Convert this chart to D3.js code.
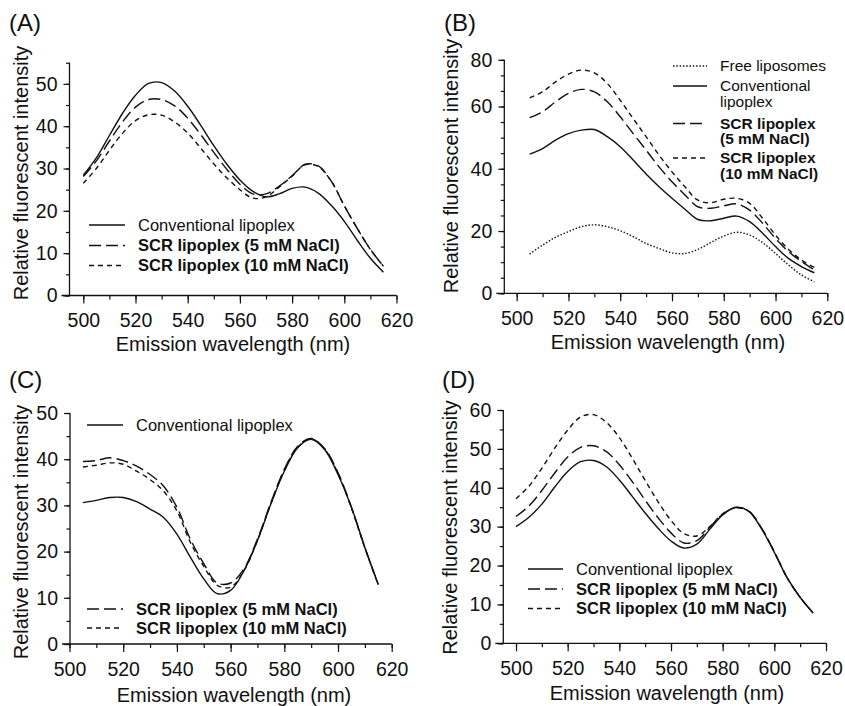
<!DOCTYPE html>
<html>
<head>
<meta charset="utf-8">
<script src="https://cdn.jsdelivr.net/npm/d3@7"></script>
<style>
body { margin: 0; background: #fff; }
svg { font-family: "Liberation Sans", Arial, sans-serif; }
</style>
</head>
<body>
<svg id="chart" width="845" height="706"></svg>
<script>
// ---- data ----
const wlA = [500,505,510,515,520,525,530,535,540,545,550,555,560,565,570,575,580,585,590,595,600,605,610,615]
const convA  = [28.4,32.5,37.8,43.0,47.3,50.1,50.3,48.3,44.7,40.2,35.4,31.0,27.3,24.6,23.3,24.0,25.3,25.6,24.2,21.3,17.5,13.0,8.8,5.5]
const scr5A  = [28.1,31.8,36.5,41.0,44.5,46.3,46.3,44.8,41.9,38.0,33.8,29.8,26.3,24.0,24.0,25.8,28.3,31.0,30.6,27.0,21.2,15.8,10.9,6.9]
const scr10A = [26.5,30.0,34.3,38.3,41.3,42.7,42.6,41.0,38.4,34.8,31.1,27.8,25.0,23.0,23.3,25.6,28.2,30.9,30.5,27.0,21.2,15.8,10.9,6.9]

const wlB = [505,510,515,520,525,530,535,540,545,550,555,560,565,570,575,580,585,590,595,600,605,610,615]
const freeB  = [12.6,15.5,18.0,19.8,21.4,22.0,21.4,20.1,18.2,16.0,14.4,13.0,12.8,14.1,16.3,18.4,19.6,18.7,16.3,12.8,9.1,5.9,3.7]
const convB  = [44.7,46.5,49.2,51.3,52.4,52.6,50.3,47.1,42.8,38.3,34.2,30.5,27.0,23.7,23.3,24.1,24.8,23.0,19.3,15.0,11.2,8.6,6.6]
const scr5B  = [56.4,58.3,61.5,64.2,65.5,64.7,61.5,56.7,51.3,46.0,40.6,35.8,31.6,27.8,27.3,28.1,28.7,26.7,22.5,17.6,13.4,10.2,7.5]
const scr10B = [62.8,64.7,67.9,70.4,71.7,70.8,67.4,62.0,56.1,50.3,44.4,39.0,34.2,29.9,29.1,30.2,30.5,28.9,24.1,18.7,14.1,10.7,8.3]

const wlC = [505,510,515,520,525,530,535,540,545,550,555,560,565,570,575,580,585,590,595,600,605,610,615]
const convC  = [30.6,31.1,31.7,31.7,30.8,29.2,27.4,23.8,18.8,14.1,10.9,11.6,15.9,22.4,30.3,37.4,42.5,44.3,42.1,36.7,29.6,20.9,12.9]
const scr5C  = [39.5,39.7,40.3,39.7,38.5,36.7,34.2,29.6,22.7,17.4,13.2,13.2,16.3,22.7,30.6,37.8,42.8,44.5,42.3,37.1,29.6,20.9,12.9]
const scr10C = [38.3,38.7,39.2,38.9,37.4,35.6,33.1,28.8,22.0,16.8,12.7,12.3,15.9,22.4,30.4,37.6,42.6,44.4,42.2,36.9,29.4,20.8,12.8]

const wlD = [500,505,510,515,520,525,530,535,540,545,550,555,560,565,570,575,580,585,590,595,600,605,610,615]
const convD  = [30.0,32.4,35.8,40.2,44.2,46.7,47.0,45.4,42.0,37.8,33.5,29.6,26.3,24.5,25.5,29.3,33.0,35.0,34.0,29.5,23.4,16.8,11.8,7.8]
const scr5D  = [32.6,35.3,39.3,43.8,47.9,50.4,50.8,49.3,45.9,41.6,36.8,32.3,28.4,25.8,26.4,29.8,33.2,34.9,34.1,29.7,23.5,16.8,11.8,7.8]
const scr10D = [37.2,40.4,45.0,50.2,54.8,58.2,58.8,56.8,52.9,47.6,41.9,36.4,31.6,28.2,27.6,30.0,33.3,34.8,34.0,29.6,23.5,16.8,11.8,7.8]

const xTicks = [500,520,540,560,580,600,620]
const xMinor = [500,510,520,530,540,550,560,570,580,590,600,610,620]
const yTicksA = [0,10,20,30,40,50]
const yTicksB = [0,20,40,60,75]
const yTickLabelsB = ['0','20','40','60','80']
const yTicksC = [0,10,20,30,40,50]
const yTicksD = [0,10,20,30,40,50,60]

const names = {
    free: ['Free liposomes'],
    conv: ['Conventional lipoplex'],
    scr5: ['SCR lipoplex (5 mM NaCl)'],
    scr10: ['SCR lipoplex (10 mM NaCl)']
}
const dashes = { free: '1.5,1.8', conv: null, scr5: '12,5', scr10: '5,4' }
const bold = { free: false, conv: false, scr5: true, scr10: true }

const svg = d3.select('#chart')

function panel(s) {
    const g = svg.append('g')
    const x = d3.scaleLinear().domain([500, 620]).range(s.xr)
    const y = d3.scaleLinear().domain(s.yDomain).range(s.yr)

    // minor ticks
    g.append('g')
        .attr('transform', `translate(0,${s.yr[0]})`)
        .call(d3.axisBottom(x).tickValues(xMinor).tickSize(4).tickFormat(''))
        .call(a => a.select('.domain').remove())
    g.append('g')
        .attr('transform', `translate(${s.yx},0)`)
        .call(d3.axisLeft(y).tickValues(d3.range(0, s.yDomain[1] + 0.1, 5)).tickSize(3.5).tickFormat(''))
        .call(a => a.select('.domain').remove())

    // major ticks
    const xa = g.append('g')
        .attr('transform', `translate(0,${s.yr[0]})`)
        .call(d3.axisBottom(x).tickValues(xTicks).tickSize(8).tickPadding(10))
    xa.select('.domain').remove()
    const ya = g.append('g')
        .attr('transform', `translate(${s.yx},0)`)
        .call(d3.axisLeft(y).tickValues(s.yTicks).tickSize(6).tickPadding(6)
            .tickFormat((d, i) => s.yLabels ? s.yLabels[i] : d))
    ya.select('.domain').remove()

    g.selectAll('.tick text').attr('font-size', 19.5).attr('font-family', null).attr('fill', '#111')
    g.selectAll('.tick line').attr('stroke', '#111').attr('stroke-width', 1.2)

    // axis lines
    g.append('line')
        .attr('x1', s.yx - 8).attr('x2', s.xr[1])
        .attr('y1', s.yr[0]).attr('y2', s.yr[0])
        .attr('stroke', '#111').attr('stroke-width', 1.3)
    g.append('line')
        .attr('x1', s.yx).attr('x2', s.yx)
        .attr('y1', s.yr[0]).attr('y2', s.yr[1])
        .attr('stroke', '#111').attr('stroke-width', 1.3)

    // curves
    const line = d3.line()
        .x(d => x(d[0]))
        .y(d => y(d[1]))
        .curve(d3.curveCatmullRom.alpha(0.5))
    s.series.forEach(se => {
        g.append('path')
            .datum(s.wl.map((w, i) => [w, se.values[i]]))
            .attr('fill', 'none')
            .attr('stroke', '#111')
            .attr('stroke-width', 1.4)
            .attr('stroke-dasharray', dashes[se.key])
            .attr('d', line)
    })

    // legend
    const fs = s.legendSize || 16.5
    s.legend.forEach(l => {
        g.append('line')
            .attr('x1', l.x).attr('x2', l.x + l.len)
            .attr('y1', l.y).attr('y2', l.y)
            .attr('stroke', '#111').attr('stroke-width', 1.4)
            .attr('stroke-dasharray', dashes[l.key])
        const t = g.append('text')
            .attr('x', l.x + l.len + 13)
            .attr('y', l.y)
            .attr('font-size', fs)
            .attr('font-weight', bold[l.key] ? 'bold' : 'normal')
            .attr('fill', '#111')
        const lines = l.lines || names[l.key]
        lines.forEach((txt, i) => {
            t.append('tspan')
                .attr('x', l.x + l.len + 13)
                .attr('dy', i === 0 ? '0.35em' : fs)
                .text(txt)
        })
    })

    // titles
    g.append('text')
        .attr('x', s.letter[0]).attr('y', s.letter[1])
        .attr('font-size', 24).attr('fill', '#111')
        .text(s.name)
    g.append('text')
        .attr('transform', `translate(${s.ytitle[0]},${s.ytitle[1]}) rotate(-90)`)
        .attr('text-anchor', 'middle')
        .attr('font-size', 20).attr('fill', '#111')
        .text('Relative fluorescent intensity')
    g.append('text')
        .attr('x', s.xtitle[0]).attr('y', s.xtitle[1])
        .attr('text-anchor', 'middle')
        .attr('font-size', 20).attr('fill', '#111')
        .text('Emission wavelength (nm)')
}

panel({
    name: '(A)', letter: [9, 31],
    xr: [83.3, 396.5], yx: 69.5,
    yDomain: [0, 55], yr: [295.5, 62.7], yTicks: yTicksA,
    ytitle: [28, 173], xtitle: [233, 351],
    wl: wlA,
    series: [{key: 'conv', values: convA}, {key: 'scr5', values: scr5A}, {key: 'scr10', values: scr10A}],
    legend: [
        {key: 'conv', x: 89, len: 36, y: 225},
        {key: 'scr5', x: 89, len: 36, y: 245.5},
        {key: 'scr10', x: 89, len: 36, y: 265.5}
    ]
})

panel({
    name: '(B)', letter: [444, 31],
    xr: [516.7, 827.3], yx: 504.3,
    yDomain: [0, 75], yr: [293.3, 59.8], yTicks: yTicksB, yLabels: yTickLabelsB,
    ytitle: [458, 166], xtitle: [668, 349],
    wl: wlB, legendSize: 15.5,
    series: [{key: 'free', values: freeB}, {key: 'conv', values: convB}, {key: 'scr5', values: scr5B}, {key: 'scr10', values: scr10B}],
    legend: [
        {key: 'free', x: 673, len: 34, y: 66},
        {key: 'conv', x: 673, len: 34, y: 86},
        {key: 'scr5', x: 673, len: 34, y: 123.5},
        {key: 'scr10', x: 673, len: 34, y: 158}
    ].map(l => Object.assign(l, {lines: {
        free: ['Free liposomes'],
        conv: ['Conventional', 'lipoplex'],
        scr5: ['SCR lipoplex', '(5 mM NaCl)'],
        scr10: ['SCR lipoplex', '(10 mM NaCl)']
    }[l.key]}))
})

panel({
    name: '(C)', letter: [9, 388],
    xr: [69.5, 391.7], yx: 70,
    yDomain: [0, 50], yr: [644, 413], yTicks: yTicksC,
    ytitle: [28, 532], xtitle: [234, 702],
    wl: wlC,
    series: [{key: 'conv', values: convC}, {key: 'scr5', values: scr5C}, {key: 'scr10', values: scr10C}],
    legend: [
        {key: 'conv', x: 87, len: 36, y: 425},
        {key: 'scr5', x: 87, len: 36, y: 609},
        {key: 'scr10', x: 87, len: 36, y: 628}
    ]
})

panel({
    name: '(D)', letter: [442, 388],
    xr: [516, 826], yx: 503.3,
    yDomain: [0, 60], yr: [643.3, 410], yTicks: yTicksD,
    ytitle: [456.5, 527.5], xtitle: [667, 700],
    wl: wlD,
    series: [{key: 'conv', values: convD}, {key: 'scr5', values: scr5D}, {key: 'scr10', values: scr10D}],
    legend: [
        {key: 'conv', x: 528, len: 35, y: 569},
        {key: 'scr5', x: 528, len: 35, y: 589},
        {key: 'scr10', x: 528, len: 35, y: 608.5}
    ]
})
</script>
</body>
</html>
